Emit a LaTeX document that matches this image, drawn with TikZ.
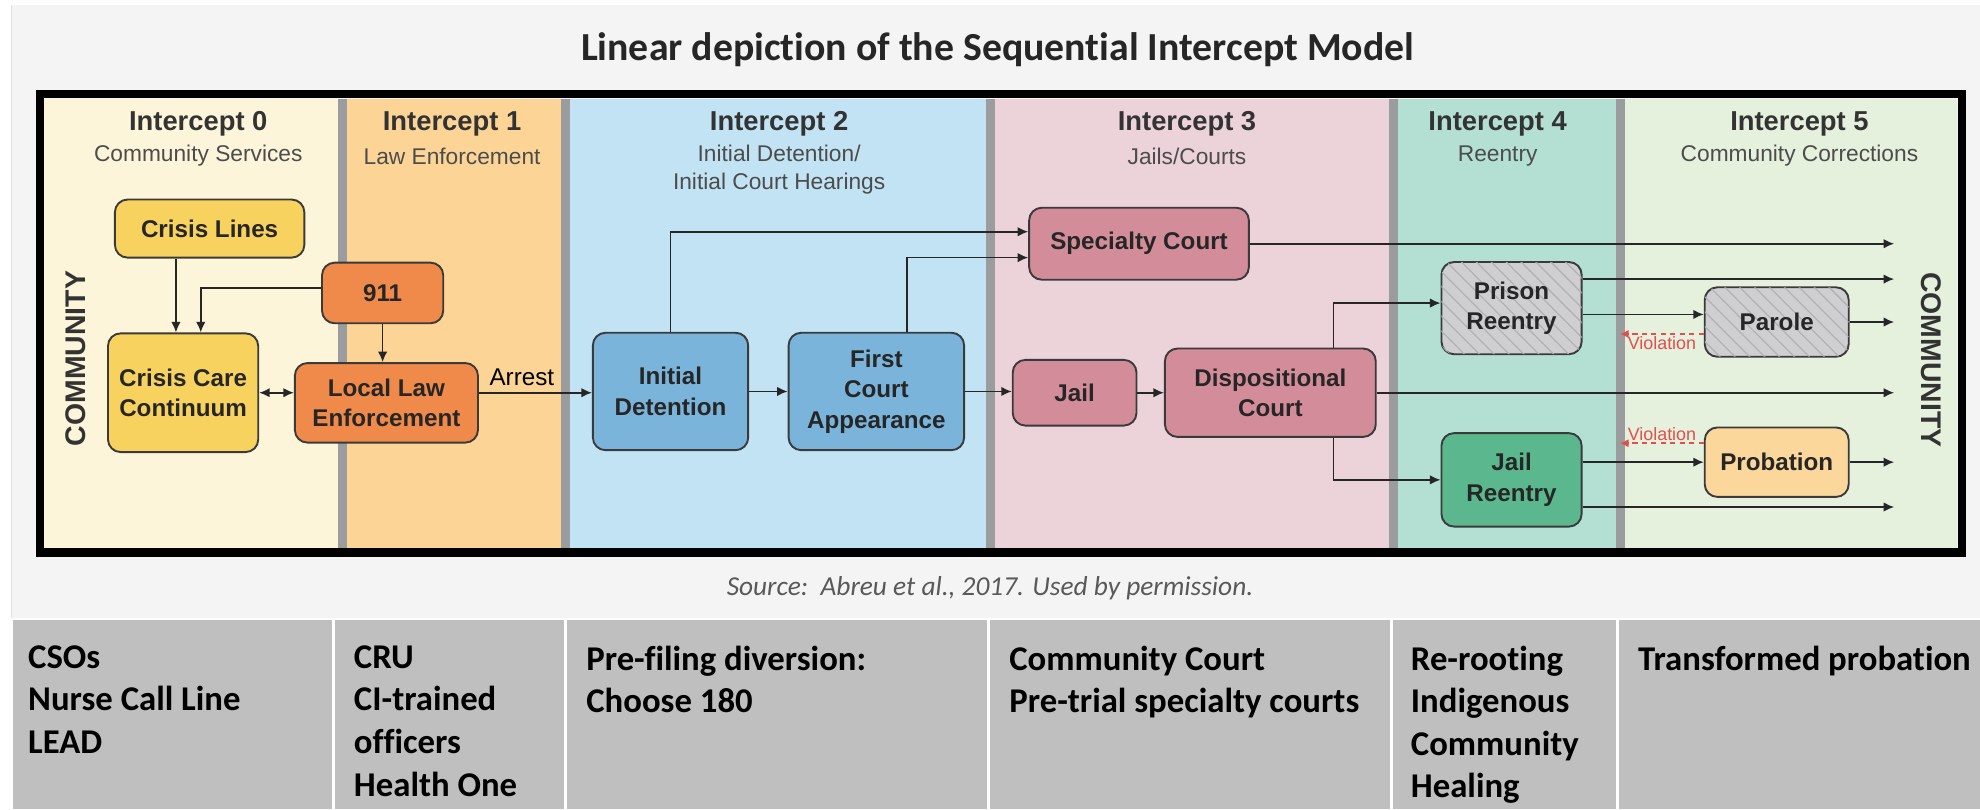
\documentclass[tikz,border=0pt]{standalone}
\usepackage{fontspec}
\setmainfont{Liberation Sans}
\newfontfamily\carlito[Ligatures=NoCommon]{Carlito}
\usepackage{tikz}
\usetikzlibrary{arrows.meta,patterns.meta,calc}
\definecolor{panelgray}{HTML}{F4F4F4}
\definecolor{tablegray}{HTML}{BFBFBF}
\definecolor{divgray}{HTML}{9A9C9E}
\definecolor{boxline}{HTML}{3A3A3A}
\definecolor{violred}{HTML}{E0504F}
\definecolor{colzero}{HTML}{FDF5D9}
\definecolor{colone}{HTML}{FCD596}
\definecolor{coltwo}{HTML}{C2E3F4}
\definecolor{colthree}{HTML}{ECD2D9}
\definecolor{colfour}{HTML}{B3E0D3}
\definecolor{colfive}{HTML}{E5F0DD}
\definecolor{boxyellow}{HTML}{F7D25F}
\definecolor{boxorange}{HTML}{EF8A4B}
\definecolor{boxblue}{HTML}{7AB4DB}
\definecolor{boxrose}{HTML}{D38C9A}
\definecolor{boxgray}{HTML}{CFCFD1}
\definecolor{boxgreen}{HTML}{5BB88E}
\definecolor{boxpeach}{HTML}{FBD79B}
\tikzset{
  box/.style={rectangle, rounded corners=6pt, draw=boxline, line width=0.9pt,
              fill=#1, align=center, inner sep=0pt, text=black!85,
              font=\bfseries\fontsize{11.5}{14.5}\selectfont},
  hatched/.style={postaction={pattern={Lines[angle=-45,distance=5pt,line width=0.6pt]},
                  pattern color=black!30}},
  flow/.style={-{Latex[length=5pt,width=4.5pt]}, line width=0.8pt, draw=black!85},
  violation/.style={-{Latex[length=4pt,width=4pt]}, dash pattern=on 2.5pt off 2pt,
                    line width=0.8pt, draw=violred},
  violtext/.style={font=\fontsize{8.5}{10}\selectfont, text=violred, inner sep=1pt},
  colhead/.style={font=\bfseries\fontsize{13}{15}\selectfont, text=black!80},
  colsub/.style={font=\fontsize{10.8}{13.3}\selectfont, text=black!70, align=center},
  divider/.style={line width=4.2pt, draw=divgray},
  sidelabel/.style={font=\bfseries\fontsize{13.5}{15}\selectfont, text=black!80},
  tabtext/.style={anchor=north west, inner sep=0pt, align=left,
                  font=\carlito\bfseries\fontsize{16.5}{20.2}\selectfont},
}
\begin{document}
\begin{tikzpicture}[x=0.6pt,y=-0.6pt]
  \useasboundingbox (0,0) rectangle (1568,641);
  \fill[white] (0,0) rectangle (1568,641);
  \fill[panelgray] (9,4) rectangle (1568,489);
  \draw[black!12] (9,4) -- (9,489);
  \node[font=\carlito\bfseries\fontsize{18.9}{22}\selectfont, text=black!85] (title) at (790,39)
    {Linear depiction of the Sequential Intercept Model};
  % Intercept columns
  \fill[colzero] (35,78) rectangle (271.5,434);
  \fill[colone] (271.5,78) rectangle (448,434);
  \fill[coltwo] (448,78) rectangle (784.5,434);
  \fill[colthree] (784.5,78) rectangle (1103.5,434);
  \fill[colfour] (1103.5,78) rectangle (1283,434);
  \fill[colfive] (1283,78) rectangle (1550,434);
  \foreach \x in {271.5,448,784.5,1103.5,1283} \draw[divider] (\x,78) -- (\x,434);
  \draw[line width=4pt] (31.7,74.5) rectangle (1553.5,437.5);
  \node[colhead] (h0) at (157,98) {Intercept 0};
  \node[colsub] (s0) at (157,123.5) {Community Services};
  \node[colhead] (h1) at (358,98) {Intercept 1};
  \node[colsub] (s1) at (358,123.5) {Law Enforcement};
  \node[colhead] (h2) at (617,98) {Intercept 2};
  \node[colsub] (s2) at (617,134.6) {Initial Detention/\\Initial Court Hearings};
  \node[colhead] (h3) at (940,98) {Intercept 3};
  \node[colsub] (s3) at (940,123.5) {Jails/Courts};
  \node[colhead] (h4) at (1186,98) {Intercept 4};
  \node[colsub] (s4) at (1186,123.5) {Reentry};
  \node[colhead] (h5) at (1425,98) {Intercept 5};
  \node[colsub] (s5) at (1425,123.5) {Community Corrections};
  \node[sidelabel, rotate=90] (commleft) at (60,284) {COMMUNITY};
  \node[sidelabel, rotate=-90] (commright) at (1529,285) {COMMUNITY};
  % Boxes
  \node[box=boxyellow, minimum width=90pt, minimum height=27.6pt] (crisis) at (166,181) {Crisis Lines};
  \node[box=boxorange, minimum width=57.6pt, minimum height=28.8pt] (nine) at (303,232) {911};
  \node[box=boxyellow, minimum width=71.4pt, minimum height=56.4pt] (ccc) at (145,311) {Crisis Care\\Continuum};
  \node[box=boxorange, minimum width=87pt, minimum height=37.8pt] (lle) at (306,319) {Local Law\\Enforcement};
  \node[box=boxblue, minimum width=73.8pt, minimum height=55.8pt] (initdet) at (531,310) {Initial\\Detention};
  \node[box=boxblue, minimum width=83.4pt, minimum height=55.8pt] (fca) at (694,310) {First\\Court\\Appearance};
  \node[box=boxrose, minimum width=104.4pt, minimum height=34.2pt] (special) at (902,193) {Specialty Court};
  \node[box=boxrose, minimum width=58.8pt, minimum height=31.2pt] (jail) at (851,311) {Jail};
  \node[box=boxrose, minimum width=100.2pt, minimum height=42pt] (dispo) at (1006,311) {Dispositional\\Court};
  \node[box=boxgray, hatched, minimum width=66.6pt, minimum height=43.8pt] (prison) at (1197,244) {Prison\\Reentry};
  \node[box=boxgray, hatched, minimum width=68.4pt, minimum height=33pt] (parole) at (1407,255) {Parole};
  \node[box=boxgreen, minimum width=66.6pt, minimum height=44.4pt] (jailre) at (1197,380) {Jail\\Reentry};
  \node[box=boxpeach, minimum width=68.4pt, minimum height=33pt] (probation) at (1407,366) {Probation};
  \coordinate (exit) at (1500,0);
  \coordinate (div45) at (1283,0);
  % Connectors
  \draw[flow] ([xshift=-16pt]crisis.south) -- ([xshift=-16pt]crisis.south |- ccc.north);
  \draw[flow] ([yshift=2.4pt]nine.west) -| ([xshift=8.4pt]ccc.north);
  \draw[flow] (nine.south) -- (nine.south |- lle.north);
  \draw[{Latex[length=5pt,width=4.5pt]}-{Latex[length=5pt,width=4.5pt]}, line width=0.8pt, draw=black!85]
    (ccc.east) -- (ccc.east -| lle.west);
  \draw[flow] ([yshift=4.8pt]lle.east) -- node[above, pos=0.38, inner sep=3pt,
    font=\fontsize{11.5}{14}\selectfont] (arrest) {Arrest} ([yshift=4.8pt]lle.east -| initdet.west);
  \draw[flow] (initdet) -- (fca);
  \draw[flow] (fca.east) -- (fca.east -| jail.west);
  \draw[flow] (jail) -- (dispo);
  \draw[flow] (initdet.north) |- ([yshift=5.7pt]special.west);
  \draw[flow] ([xshift=14.4pt]fca.north) |- ([yshift=-6.6pt]special.west);
  \draw[flow] (special.east) -- (special.east -| exit);
  \draw[flow] ([xshift=30pt]dispo.north) |- ([yshift=2.4pt]prison.west);
  \draw[flow] ([xshift=30pt]dispo.south) |- (jailre.west);
  \draw[flow] (dispo.east) -- (dispo.east -| exit);
  \draw[flow] ([yshift=13.8pt]prison.east) -- ([yshift=13.8pt]prison.east -| exit);
  \draw[flow] ([yshift=-3pt]prison.east) -- ([yshift=-3pt]prison.east -| parole.west);
  \draw[flow] (parole.east) -- (parole.east -| exit);
  \draw[flow] ([yshift=8.4pt]jailre.east) -- ([yshift=8.4pt]jailre.east -| probation.west);
  \draw[flow] (probation.east) -- (probation.east -| exit);
  \draw[flow] ([yshift=-12.9pt]jailre.east) -- ([yshift=-12.9pt]jailre.east -| exit);
  \draw[violation] ([yshift=-5.7pt]parole.west) -- node[violtext, below] (viol1) {Violation}
    ([yshift=-5.7pt]parole.west -| div45);
  \draw[violation] ([yshift=9pt]probation.west) -- node[violtext, above] (viol2) {Violation}
    ([yshift=9pt]probation.west -| div45);
  \node[font=\carlito\itshape\fontsize{13}{15}\selectfont, text=black!65] (source) at (784,466)
    {Source:\ \ Abreu et al., 2017. Used by permission.};
  % Bottom table
  \fill[tablegray] (10,491) rectangle (1568,641);
  \foreach \x in {264,448,783,1102,1281} \draw[white, line width=1.5pt] (\x,491) -- (\x,641);
  \node[tabtext] (t0) at (22,511) {CSOs\\Nurse Call Line\\LEAD};
  \node[tabtext] (t1) at (280,511) {CRU\\CI-trained\\officers\\Health One};
  \node[tabtext] (t2) at (464,511) {Pre-filing diversion:\\Choose 180};
  \node[tabtext] (t3) at (799,511) {Community Court\\Pre-trial specialty courts};
  \node[tabtext] (t4) at (1117,511) {Re-rooting\\Indigenous\\Community\\Healing};
  \node[tabtext] (t5) at (1297,511) {Transformed probation};
\end{tikzpicture}
\end{document}
